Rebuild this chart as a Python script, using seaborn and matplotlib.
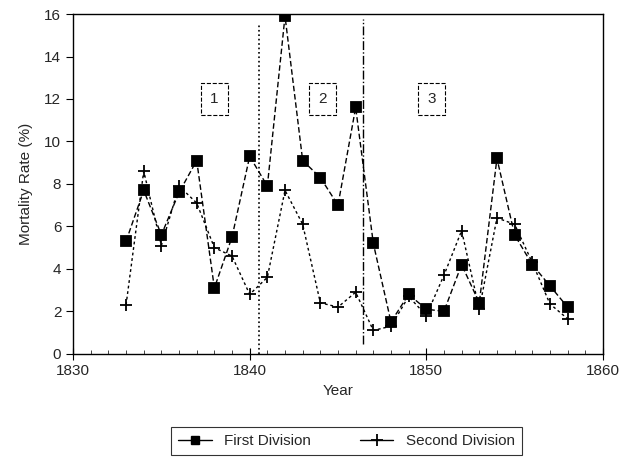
import numpy as np
import pandas as pd
import matplotlib
matplotlib.use("Agg")
import matplotlib.pyplot as plt
import seaborn as sns
from matplotlib.ticker import MultipleLocator
from matplotlib.lines import Line2D

# -----------------------------
# DATA
# -----------------------------
years = list(range(1833, 1859))

first_division = [5.3, 7.7, 5.6, 7.6, 9.1, 3.1, 5.5, 9.3, 7.9, 15.9,
                  9.1, 8.3, 7.0, 11.6, 5.2, 1.5, 2.8, 2.1, 2.0, 4.2,
                  2.4, 9.2, 5.6, 4.2, 3.2, 2.2]

second_division = [2.3, 8.6, 5.1, 7.9, 7.1, 5.0, 4.6, 2.8, 3.6, 7.7,
                   6.1, 2.4, 2.2, 2.9, 1.1, 1.3, 2.7, 1.8, 3.7, 5.8,
                   2.1, 6.4, 6.1, 4.3, 2.35, 1.65]

period_breaks = [1840.5, 1846.4]
period_labels = ["1", "2", "3"]
period_label_x = [1838.0, 1844.1, 1850.3]

df = pd.DataFrame({
    "Year": years * 2,
    "Rate": first_division + second_division,
    "Division": ["First Division"] * len(years) + ["Second Division"] * len(years),
})

# -----------------------------
# PLOT
# -----------------------------
sns.set_style("ticks")
plt.rcParams["font.family"] = ["Liberation Sans", "DejaVu Sans"]

fig = plt.figure(figsize=(6.3, 4.68), dpi=100)
ax = fig.add_axes([0.116, 0.244, 0.841, 0.726])

sns.lineplot(data=df, x="Year", y="Rate", hue="Division", style="Division",
             palette=["black", "black"], markers={"First Division": "s", "Second Division": "P"},
             dashes={"First Division": (4, 2), "Second Division": (2, 2)},
             markersize=7, linewidth=1.0, ax=ax, legend=False)

# square markers for the first series, thin "+" for the second
for line, mk, ms in zip(ax.get_lines(), ["s", "+"], [7.5, 9]):
    line.set_marker(mk)
    line.set_markersize(ms)
    line.set_markerfacecolor("black")
    line.set_markeredgecolor("black")
    line.set_markeredgewidth(1.3)

ax.axvline(period_breaks[0], ymin=0, ymax=0.975, color="black", linestyle=":", linewidth=1.2)
ax.axvline(period_breaks[1], ymin=0.03, ymax=0.985, color="black", linestyle="-.", linewidth=1.0)

for lab, xp in zip(period_labels, period_label_x):
    ax.text(xp, 12, lab, ha="center", va="center", fontsize=11,
            bbox=dict(boxstyle="square,pad=0.6", facecolor="white",
                      edgecolor="black", linewidth=0.8, linestyle="--"))

ax.set_xlim(1830, 1860)
ax.set_ylim(0, 16)
ax.xaxis.set_major_locator(MultipleLocator(10))
ax.xaxis.set_minor_locator(MultipleLocator(1))
ax.yaxis.set_major_locator(MultipleLocator(2))
ax.tick_params(axis="both", which="major", labelsize=11, length=5, color="black")
ax.tick_params(axis="x", which="major", direction="inout", length=8)
ax.tick_params(axis="x", which="minor", direction="in", length=3)
ax.set_xlabel("Year", fontsize=11, labelpad=4)
ax.set_ylabel("Mortality Rate (%)", fontsize=11, labelpad=8)

for sp in ax.spines.values():
    sp.set_visible(True)
    sp.set_color("black")
    sp.set_linewidth(1.0)

# -----------------------------
# LEGEND
# -----------------------------
handles = [
    Line2D([0], [0], color="black", marker="s", markersize=6, linewidth=1.0),
    Line2D([0], [0], color="black", marker="+", markersize=9, markeredgewidth=1.3, linewidth=1.0),
]
leg = fig.legend(handles, ["First Division", "Second Division"], loc="center",
                 bbox_to_anchor=(0.55, 0.058), ncol=2, fontsize=11, frameon=True,
                 fancybox=False, edgecolor="black", handlelength=2.2, columnspacing=3.2,
                 borderpad=0.45)
leg.get_frame().set_linewidth(0.8)

fig.savefig("out.png", dpi=100)
